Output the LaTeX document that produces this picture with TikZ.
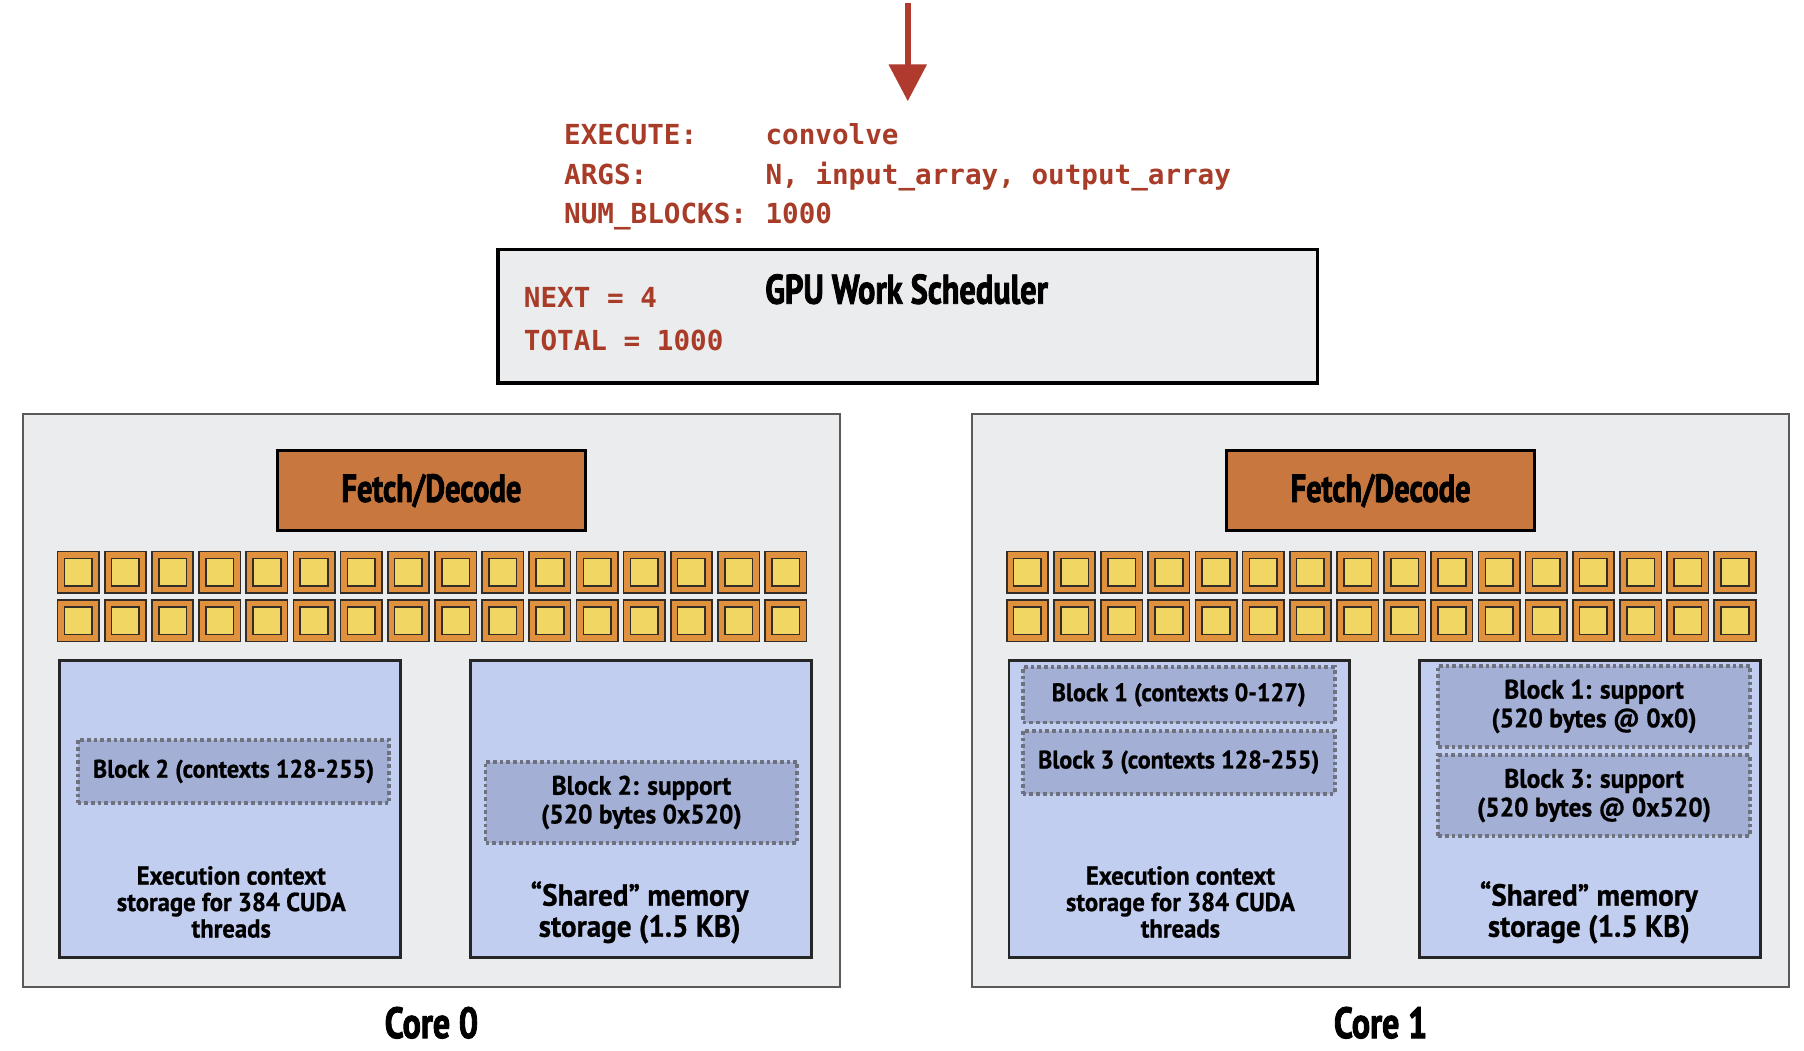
\documentclass[tikz,border=0pt]{standalone}
\usepackage{fontspec}
\setmainfont{PT Sans}[FakeStretch=0.78,BoldFeatures={FakeBold=2}]
\newfontfamily\bodyfont{PT Sans}[FakeStretch=0.95,BoldFeatures={FakeBold=0.8}]
\setmonofont{DejaVu Sans Mono}
\usetikzlibrary{arrows.meta}
\begin{document}
\begin{tikzpicture}[x=0.5pt,y=-0.5pt,
  corebox/.style={draw=coreLine,line width=0.8pt,fill=coreFill,minimum width=355pt,minimum height=249pt,inner sep=0pt},
  fdbox/.style={draw=black,line width=1.3pt,fill=fdFill,minimum width=134pt,minimum height=34.5pt,inner sep=0pt,font=\fontsize{17}{20}\selectfont\bfseries},
  aluout/.style={draw=aluLine,line width=0.7pt,fill=aluOut,minimum size=18pt,inner sep=0pt},
  aluin/.style={draw=aluLine,line width=0.7pt,fill=aluIn,minimum size=12pt,inner sep=0pt},
  membox/.style={draw=black!85,line width=1.2pt,fill=memFill,minimum width=148pt,minimum height=129pt,inner sep=0pt},
  blockbox/.style={draw=dashLine,line width=1.7pt,dash pattern=on 1.6pt off 1.3pt,fill=blockFill,minimum width=135.5pt,inner sep=0pt,align=center,font=\bodyfont\fontsize{11}{12.5}\selectfont\bfseries},
  memtext/.style={align=center,inner sep=0pt,font=\bodyfont\fontsize{11.3}{11.5}\selectfont\bfseries},
  smemtext/.style={align=center,inner sep=0pt,font=\bodyfont\fontsize{13.3}{13.5}\selectfont\bfseries},
  coretitle/.style={inner sep=0pt,font=\fontsize{19}{22}\selectfont\bfseries},
  code/.style={anchor=base west,inner sep=0pt,text=codeRed,font=\fontsize{12}{14}\selectfont\ttfamily\bfseries},
  arrowline/.style={draw=arrowRed,line width=2.6pt,-{Triangle[width=16pt,length=16pt]}}]
\definecolor{coreFill}{RGB}{235,236,238}
\definecolor{coreLine}{RGB}{90,90,90}
\definecolor{fdFill}{RGB}{200,120,63}
\definecolor{aluOut}{RGB}{223,145,62}
\definecolor{aluIn}{RGB}{242,214,99}
\definecolor{aluLine}{RGB}{50,45,40}
\definecolor{memFill}{RGB}{194,206,240}
\definecolor{blockFill}{RGB}{164,175,214}
\definecolor{dashLine}{RGB}{110,114,126}
\definecolor{codeRed}{RGB}{168,60,40}
\definecolor{arrowRed}{RGB}{176,58,46}

\path[use as bounding box,fill=white] (0,0) rectangle (1568,913);

% incoming launch command
\coordinate (in0) at (789,3);
\coordinate (in1) at (789,88);
\draw[arrowline] (in0) -- (in1);

\node[code] (exeK) at (490,126) {EXECUTE:};
\node[code] (exeV) at (665,126) {convolve};
\node[code] (argK) at (490,160) {ARGS:};
\node[code] (argV) at (665,160) {N, input\_array, output\_array};
\node[code] (nbK) at (490,194) {NUM\_BLOCKS:};
\node[code] (nbV) at (665,194) {1000};

% scheduler
\node[draw=black,line width=1.6pt,fill=coreFill,minimum width=356pt,minimum height=58pt,inner sep=0pt] (sched) at (789,275) {};
\node[anchor=base,inner sep=0pt,font=\fontsize{18}{20}\selectfont\bfseries] (schedT) at (788,264) {GPU Work Scheduler};
\node[code] (next) at (455,267) {NEXT = 4};
\node[code] (total) at (455,305) {TOTAL = 1000};

% two cores
\foreach \c/\cx in {0/375,1/1200}{
  \node[corebox] (core\c) at (\cx,609) {};
  \node[fdbox] (fd\c) at (\cx,426.5) {Fetch/Decode};
  \node[membox] (ctx\c) at (\cx-175,703) {};
  \node[membox] (smem\c) at (\cx+182,703) {};
  \node[memtext] (ctxT\c) at (\cx-174,784) {Execution context\\storage for 384 CUDA\\threads};
  \node[smemtext] (smemT\c) at (\cx+181,793) {“Shared” memory\\storage (1.5 KB)};
  \node[coretitle] (ct\c) at (\cx,889) {Core \c};
  \foreach \r in {0,1}{
    \foreach \k in {0,...,15}{
      \node[aluout] (alu\c-\r-\k) at ({\cx-307+41*\k},{497.5+42*\r}) {};
      \node[aluin] (alui\c-\r-\k) at (alu\c-\r-\k) {};
    }
  }
}

% blocks on core 0
\node[blockbox,minimum height=27.5pt] (b2ctx) at (203,670.5) {Block 2 (contexts 128-255)};
\node[blockbox,minimum height=35.5pt,font=\bodyfont\fontsize{11.6}{12.5}\selectfont\bfseries] (b2sup) at (557.5,697.5) {Block 2: support\\(520 bytes 0x520)};

% blocks on core 1
\node[blockbox,minimum height=24pt] (b1ctx) at (1024.5,604) {Block 1 (contexts 0-127)};
\node[blockbox,minimum height=27.5pt] (b3ctx) at (1024.5,662.5) {Block 3 (contexts 128-255)};
\node[blockbox,minimum height=35.5pt,font=\bodyfont\fontsize{11.6}{12.5}\selectfont\bfseries] (b1sup) at (1385.5,614) {Block 1: support\\(520 bytes @ 0x0)};
\node[blockbox,minimum height=35pt,font=\bodyfont\fontsize{11.6}{12.5}\selectfont\bfseries] (b3sup) at (1385.5,691.5) {Block 3: support\\(520 bytes @ 0x520)};
\end{tikzpicture}
\end{document}
